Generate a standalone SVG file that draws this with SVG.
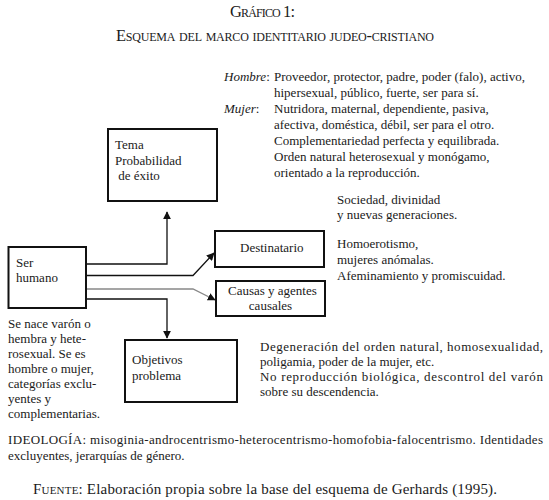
<svg xmlns="http://www.w3.org/2000/svg" width="549" height="500" viewBox="0 0 549 500">
<style>
text{font-family:"Liberation Serif","DejaVu Serif",serif;font-size:13px;fill:#1a1a1a}
.sc{font-variant:small-caps}
.t{font-size:16.5px}
.f{font-size:15px}
.it{font-style:italic}
.box{fill:#fff;stroke:#111;stroke-width:2}
.ln{fill:none;stroke:#111;stroke-width:1.3}
.gr{fill:none;stroke:#888;stroke-width:1.3}
</style>
<defs>
<marker id="ah" viewBox="0 0 10 10" refX="9" refY="5" markerWidth="8" markerHeight="8" markerUnits="userSpaceOnUse" orient="auto">
<path d="M0,0 L10,5 L0,10 z" fill="#111"/>
</marker>
</defs>
<rect width="549" height="500" fill="#fff"/>
<text class="sc t" x="230" y="17" textLength="65" lengthAdjust="spacing">Gráfico 1:</text>
<text class="sc t" x="116" y="41" textLength="318" lengthAdjust="spacing">Esquema del marco identitario judeo-cristiano</text>
<g id="rasgos">
<text x="224" y="81"><tspan class="it">Hombre</tspan>:</text>
<text x="274" y="81">Proveedor, protector, padre, poder (falo), activo,</text>
<text x="274" y="97">hipersexual, público, fuerte, ser para sí.</text>
<text x="224" y="113"><tspan class="it">Mujer</tspan>:</text>
<text x="274" y="113">Nutridora, maternal, dependiente, pasiva,</text>
<text x="274" y="129">afectiva, doméstica, débil, ser para el otro.</text>
<text x="274" y="145">Complementariedad perfecta y equilibrada.</text>
<text x="274" y="161">Orden natural heterosexual y monógamo,</text>
<text x="274" y="177">orientado a la reproducción.</text>
</g>
<g id="connectors">
<polyline class="ln" points="86,264 167,264 167,212" marker-end="url(#ah)"/>
<polyline class="ln" points="86,275.5 193,275.5 214,253" marker-end="url(#ah)"/>
<polyline class="gr" points="86,289 193,289 215,300" marker-end="url(#ah)"/>
<polyline class="ln" points="86,299 167,299 167,338" marker-end="url(#ah)"/>
</g>
<g id="tema">
<rect class="box" x="108" y="129" width="109" height="72"/>
<text x="115" y="149">Tema</text>
<text x="115" y="165">Probabilidad</text>
<text x="115" y="180" xml:space="preserve"> de éxito</text>
</g>
<g id="ser-humano">
<rect class="box" x="8.5" y="247" width="77.5" height="61"/>
<text x="16" y="267">Ser</text>
<text x="16" y="282">humano</text>
</g>
<g id="destinatario">
<rect class="box" x="215" y="231" width="109" height="36"/>
<text x="240" y="252">Destinatario</text>
</g>
<g id="causas">
<rect class="box" x="216" y="281" width="109" height="35"/>
<text x="228" y="295">Causas y agentes</text>
<text x="270.5" y="310" text-anchor="middle">causales</text>
</g>
<g id="objetivos">
<rect class="box" x="125" y="340" width="112" height="62"/>
<text x="132" y="364">Objetivos</text>
<text x="132" y="380">problema</text>
</g>
<g id="notas">
<text x="337" y="204">Sociedad, divinidad</text>
<text x="337" y="219">y nuevas generaciones.</text>
<text x="337" y="248">Homoerotismo,</text>
<text x="337" y="264">mujeres anómalas.</text>
<text x="337" y="280">Afeminamiento y promiscuidad.</text>
<text x="8" y="328">Se nace varón o</text>
<text x="8" y="343">hembra y hete-</text>
<text x="8" y="358">rosexual. Se es</text>
<text x="8" y="373">hombre o mujer,</text>
<text x="8" y="388">categorías exclu-</text>
<text x="8" y="403">yentes y</text>
<text x="8" y="418">complementarias.</text>
<text x="260" y="351" textLength="283" lengthAdjust="spacing">Degeneración del orden natural, homosexualidad,</text>
<text x="260" y="366">poligamia, poder de la mujer, etc.</text>
<text x="260" y="381" textLength="283" lengthAdjust="spacing">No reproducción biológica, descontrol del varón</text>
<text x="260" y="396">sobre su descendencia.</text>
<text x="8" y="444" textLength="535" lengthAdjust="spacing">IDEOLOGÍA: misoginia-androcentrismo-heterocentrismo-homofobia-falocentrismo. Identidades</text>
<text x="8" y="460">excluyentes, jerarquías de género.</text>
</g>
<text class="f" x="33" y="494" textLength="464" lengthAdjust="spacing"><tspan class="sc">Fuente</tspan>: Elaboración propia sobre la base del esquema de Gerhards (1995).</text>
</svg>
